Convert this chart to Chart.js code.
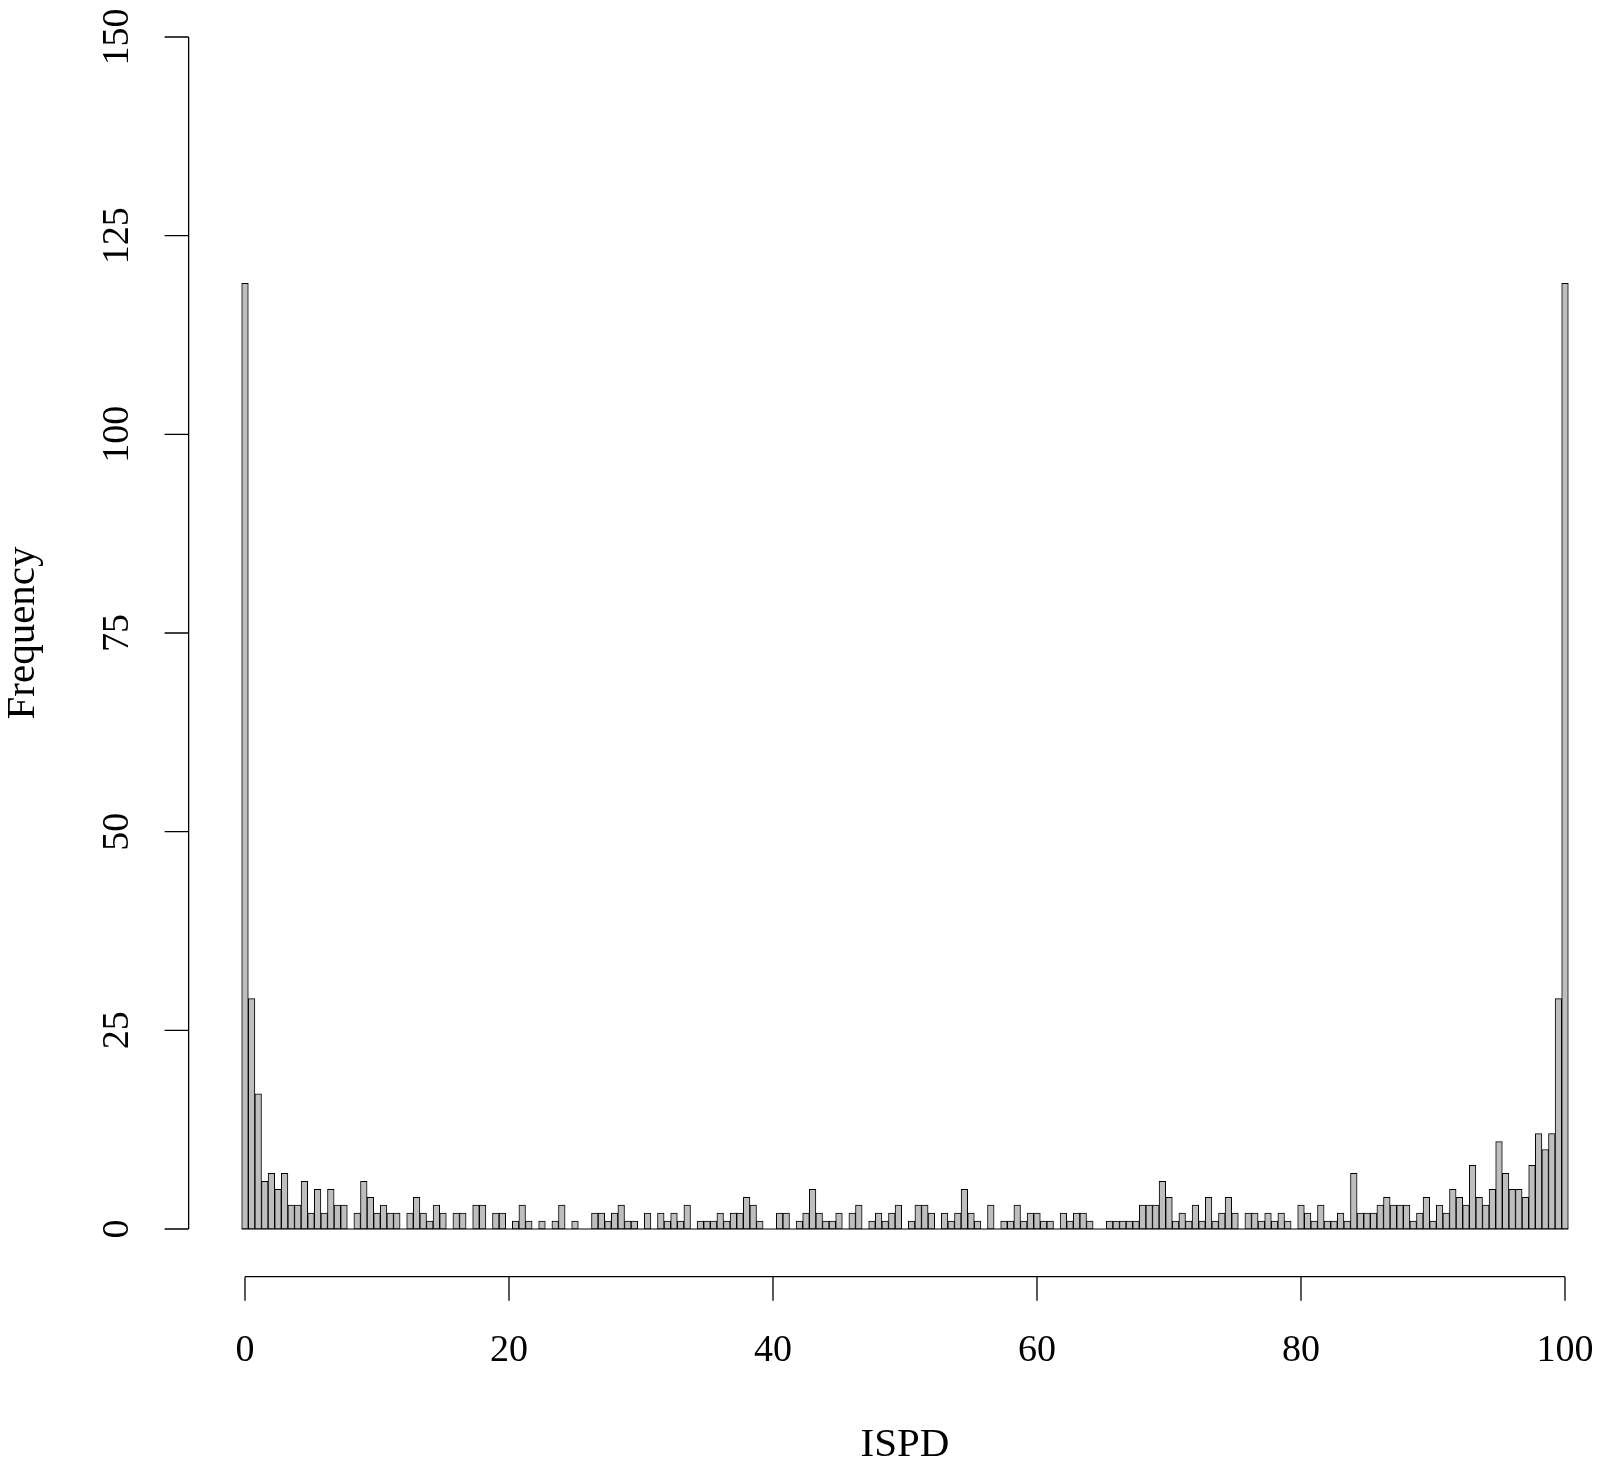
<!DOCTYPE html>
<html>
<head>
<meta charset="utf-8">
<script src="https://cdn.jsdelivr.net/npm/chart.js@4"></script>
<style>
  html, body { margin:0; padding:0; background:#fff; }
  canvas { display:block; }
</style>
</head>
<body>
<canvas id="hist" width="1600" height="1468"></canvas>
<script>
// counts per 0.5-wide bin, bins centred on 0, 0.5, ..., 100
const counts = [
  119, 29, 17, 6, 7, 5, 7, 3, 3, 6, 2, 5, 2, 5, 3, 3, 0, 2, 6, 4, 2, 3, 2, 2, 0,
  2, 4, 2, 1, 3, 2, 0, 2, 2, 0, 3, 3, 0, 2, 2, 0, 1, 3, 1, 0, 1, 0, 1, 3, 0,
  1, 0, 0, 2, 2, 1, 2, 3, 1, 1, 0, 2, 0, 2, 1, 2, 1, 3, 0, 1, 1, 1, 2, 1, 2,
  2, 4, 3, 1, 0, 0, 2, 2, 0, 1, 2, 5, 2, 1, 1, 2, 0, 2, 3, 0, 1, 2, 1, 2, 3, 0,
  1, 3, 3, 2, 0, 2, 1, 2, 5, 2, 1, 0, 3, 0, 1, 1, 3, 1, 2, 2, 1, 1, 0, 2, 1,
  2, 2, 1, 0, 0, 1, 1, 1, 1, 1, 3, 3, 3, 6, 4, 1, 2, 1, 3, 1, 4, 1, 2, 4, 2, 0,
  2, 2, 1, 2, 1, 2, 1, 0, 3, 2, 1, 3, 1, 1, 2, 1, 7, 2, 2, 2, 3, 4, 3, 3, 3, 1,
  2, 4, 1, 3, 2, 5, 4, 3, 8, 4, 3, 5, 11, 7, 5, 5, 4, 8, 12, 10, 12, 29, 119
];
const binWidth = 0.5;
const binCenters = counts.map((_, i) => i * binWidth);

const xTicks = [0, 20, 40, 60, 80, 100];
const yTicks = [0, 25, 50, 75, 100, 125, 150];
const xTitle = 'ISPD';
const yTitle = 'Frequency';

const xMin = -0.25, xMax = 100.25;
const yMin = 0, yMax = 150;
const TICK_FONT = '38px "Liberation Serif", "DejaVu Serif", serif';
const TITLE_FONT = '41px "Liberation Serif", "DejaVu Serif", serif';

// axes in the R style: detached, placed at the 4% extended user limits
const rAxes = {
  id: 'rAxes',
  beforeDatasetsDraw(chart) {
    const { ctx, scales: { x, y } } = chart;
    ctx.save();
    ctx.strokeStyle = '#000';
    ctx.lineWidth = 1.2;
    ctx.beginPath();
    ctx.moveTo(x.getPixelForValue(xMin), y.getPixelForValue(0));
    ctx.lineTo(x.getPixelForValue(xMax), y.getPixelForValue(0));
    ctx.stroke();
    ctx.restore();
  },
  afterDraw(chart) {
    const { ctx, scales: { x, y } } = chart;
    const axisX = x.getPixelForValue(xMin - 0.04 * (xMax - xMin));
    const axisY = y.getPixelForValue(yMin - 0.04 * (yMax - yMin));
    const tick = 24;
    ctx.save();
    ctx.strokeStyle = '#000';
    ctx.fillStyle = '#000';
    ctx.lineWidth = 1.3;
    ctx.font = TICK_FONT;

    // x axis
    ctx.beginPath();
    ctx.moveTo(x.getPixelForValue(xTicks[0]), axisY);
    ctx.lineTo(x.getPixelForValue(xTicks[xTicks.length - 1]), axisY);
    xTicks.forEach(v => {
      const px = x.getPixelForValue(v);
      ctx.moveTo(px, axisY);
      ctx.lineTo(px, axisY + tick);
    });
    ctx.stroke();
    ctx.textAlign = 'center';
    ctx.textBaseline = 'middle';
    xTicks.forEach(v => ctx.fillText(String(v), x.getPixelForValue(v), axisY + 74));

    // y axis
    ctx.beginPath();
    ctx.moveTo(axisX, y.getPixelForValue(yTicks[0]));
    ctx.lineTo(axisX, y.getPixelForValue(yTicks[yTicks.length - 1]));
    yTicks.forEach(v => {
      const py = y.getPixelForValue(v);
      ctx.moveTo(axisX, py);
      ctx.lineTo(axisX - tick, py);
    });
    ctx.stroke();
    yTicks.forEach(v => {
      ctx.save();
      ctx.translate(axisX - 71, y.getPixelForValue(v));
      ctx.rotate(-Math.PI / 2);
      ctx.fillText(String(v), 0, 0);
      ctx.restore();
    });

    // titles
    ctx.font = TITLE_FONT;
    const midX = (x.getPixelForValue(xMin) + x.getPixelForValue(xMax)) / 2;
    const midY = (y.getPixelForValue(yMin) + y.getPixelForValue(yMax)) / 2;
    ctx.fillText(xTitle, midX, 1445);
    ctx.save();
    ctx.translate(23, midY);
    ctx.rotate(-Math.PI / 2);
    ctx.fillText(yTitle, 0, 0);
    ctx.restore();
    ctx.restore();
  }
};

new Chart(document.getElementById('hist'), {
  type: 'bar',
  data: {
    datasets: [{
      label: yTitle,
      data: binCenters.map((c, i) => ({ x: c, y: counts[i] })),
      backgroundColor: '#bebebe',
      borderColor: '#000',
      borderWidth: 1,
      borderSkipped: false,
      barPercentage: 1,
      categoryPercentage: 1,
      clip: false
    }]
  },
  options: {
    responsive: false,
    animation: false,
    events: [],
    layout: { padding: { left: 241.7, right: 31.7, top: 37, bottom: 239 } },
    plugins: { legend: { display: false }, tooltip: { enabled: false } },
    scales: {
      x: { type: 'linear', min: xMin, max: xMax, offset: false, display: false },
      y: { type: 'linear', min: yMin, max: yMax, display: false }
    }
  },
  plugins: [rAxes]
});
</script>
</body>
</html>
